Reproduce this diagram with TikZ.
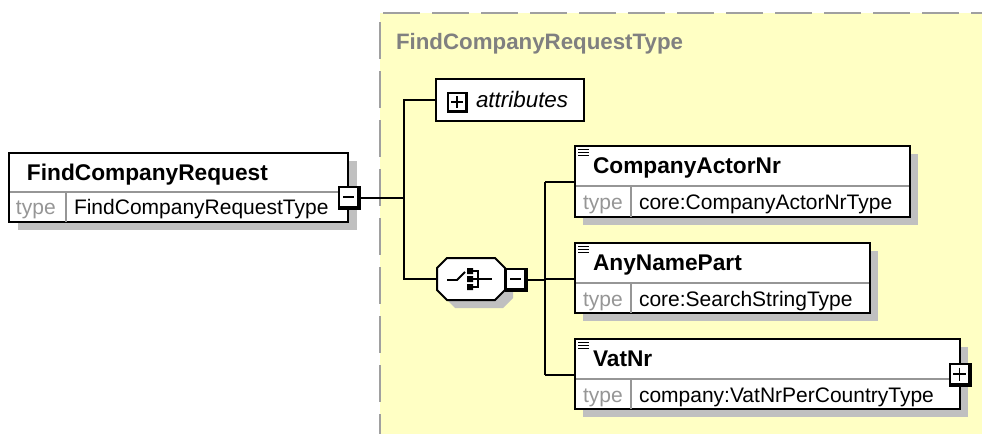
\documentclass[tikz,border=0pt]{standalone}
\usepackage{fontspec}
\setmainfont{Liberation Sans}
\definecolor{bgyellow}{RGB}{255,255,196}
\definecolor{shgray}{RGB}{192,192,192}
\definecolor{dashgray}{RGB}{160,160,160}
\definecolor{typegray}{RGB}{150,150,150}
\definecolor{titlegray}{RGB}{128,128,128}
\definecolor{divgray}{RGB}{150,150,150}
\begin{document}
\begin{tikzpicture}[x=1pt,y=-1pt,
  elbox/.style={draw=black,line width=2pt,fill=white,anchor=north west,inner sep=0pt,outer sep=0pt},
  shbox/.style={fill=shgray,draw=none,anchor=north west,inner sep=0pt,outer sep=0pt},
  sqbox/.style={fill=black,draw=none,anchor=north west,inner sep=0pt,outer sep=0pt,minimum width=23pt,minimum height=24pt},
  conn/.style={draw=black,line width=2pt},
  divline/.style={draw=divgray,line width=1.5pt},
  namefont/.style={font=\fontsize{22.7}{27}\selectfont\bfseries},
  typefont/.style={font=\fontsize{21}{25}\selectfont},
  lbl/.style={anchor=base west,inner sep=0pt,outer sep=0pt},
  typelbl/.style={lbl,typefont,text=typegray},
  iconline/.style={draw=black,line width=1.3pt},
  symline/.style={draw=black,line width=1.8pt},
  borderdash/.style={dashgray,line width=2.2pt,dash pattern=on 37pt off 12pt},
]
\useasboundingbox (0,0) rectangle (982,434);
\fill[white] (0,0) rectangle (982,434);
% type region
\fill[bgyellow] (380,13) rectangle (982,434);
\draw[borderdash,dash phase=46pt] (380,13) -- (982,13);
\draw[borderdash,dash phase=40pt] (380,13) -- (380,434);
\node[lbl,font=\fontsize{22.3}{27}\selectfont\bfseries,text=titlegray] (title) at (396,49) {FindCompanyRequestType};

% root element
\node[shbox,minimum width=339pt,minimum height=69pt] (fcrsh) at (18,161) {};
\node[elbox,minimum width=339pt,minimum height=69pt] (fcr) at (9,153) {};
\draw[divline] (10,192) -- (348,192);
\draw[divline] (66,192) -- (66,222);
\node[lbl,namefont] (fcrname) at (27,180) {FindCompanyRequest};
\node[typelbl] (fcrtl) at (16,214) {type};
\node[lbl,typefont] (fcrtype) at (74,214) {FindCompanyRequestType};
\node[sqbox] (fcrm) at (338,186) {};
\fill[white] (340,188) rectangle (357,206);
\draw[symline] (343,197) -- (354,197);

% trunk
\coordinate (t2) at (404,279);
\node[elbox,minimum width=148pt,minimum height=42pt] (attr) at (436,79) {};
\node[sqbox,minimum width=21pt,minimum height=21pt] (attrp) at (447,92) {};
\fill[white] (449,94) rectangle (465,110);
\draw[symline] (451,102) -- (463,102) (457,96) -- (457,108);
\node[lbl,font=\fontsize{22.4}{27}\selectfont\itshape] (attrtxt) at (476,107) {attributes};

% sequence compositor
\node[draw=none,inner sep=0pt,outer sep=0pt,minimum width=68pt,minimum height=42pt] (seq) at (471,279) {};
\fill[shgray] ([shift={(18pt,-8pt)}]seq.north west) -- ([shift={(-2pt,-8pt)}]seq.north east)
  -- ([shift={(8pt,-18pt)}]seq.north east) -- ([shift={(8pt,2pt)}]seq.south east)
  -- ([shift={(-2pt,-8pt)}]seq.south east) -- ([shift={(18pt,-8pt)}]seq.south west)
  -- ([shift={(8pt,2pt)}]seq.south west) -- ([shift={(8pt,-18pt)}]seq.north west) -- cycle;
\draw[black,line width=2pt,fill=white] ([xshift=10pt]seq.north west) -- ([xshift=-10pt]seq.north east)
  -- ([yshift=-10pt]seq.north east) -- ([yshift=10pt]seq.south east)
  -- ([xshift=-10pt]seq.south east) -- ([xshift=10pt]seq.south west)
  -- ([yshift=10pt]seq.south west) -- ([yshift=-10pt]seq.north west) -- cycle;
% sequence symbol
\draw[symline] (447,280) -- (457,280) -- (465,272);
\fill[black] (467,268) rectangle (473,274) (467,276) rectangle (473,282) (467,284) rectangle (473,290);
\draw[symline] (473,271) -- (478,271) -- (478,287) -- (473,287) (473,279) -- (492,279);
\node[sqbox] (seqm) at (505,268) {};
\fill[white] (507,270) rectangle (524,288);
\draw[symline] (510,279) -- (521,279);

\draw[conn] (fcrm.east) -- (fcrm.east -| t2);
\draw[conn] (attr.west) -| (t2) -- (seq.west);

% children
\coordinate (v1) at (545,182);
\coordinate (v2) at (545,279);
\coordinate (v3) at (545,375);
\draw[conn] (seqm.east) -- (seqm.east -| v2);
\draw[conn] (v1) -- (v3);

% CompanyActorNr
\node[shbox,minimum width=335pt,minimum height=71pt] (cansh) at (583,154) {};
\node[elbox,minimum width=335pt,minimum height=71pt] (can) at (575,146) {};
\draw[divline] (576,186) -- (909,186);
\draw[divline] (631,186) -- (631,217);
\draw[iconline] (578,149.5) -- (589,149.5) (578,152.5) -- (589,152.5) (578,155.5) -- (589,155.5);
\node[lbl,namefont] (canname) at (593,173) {CompanyActorNr};
\node[typelbl] (cantl) at (583,209) {type};
\node[lbl,typefont] (cantype) at (639,209) {core:CompanyActorNrType};
\draw[conn] (v1) -- (v1 -| can.west);

% AnyNamePart
\node[shbox,minimum width=295pt,minimum height=70pt] (anpsh) at (583,251) {};
\node[elbox,minimum width=295pt,minimum height=70pt] (anp) at (575,243) {};
\draw[divline] (576,283) -- (869,283);
\draw[divline] (631,283) -- (631,313);
\draw[iconline] (578,246.5) -- (589,246.5) (578,249.5) -- (589,249.5) (578,252.5) -- (589,252.5);
\node[lbl,namefont] (anpname) at (593,270) {AnyNamePart};
\node[typelbl] (anptl) at (583,306) {type};
\node[lbl,typefont] (anptype) at (639,306) {core:SearchStringType};
\draw[conn] (v2) -- (v2 -| anp.west);

% VatNr
\node[shbox,minimum width=385pt,minimum height=70pt] (vatsh) at (583,347) {};
\node[elbox,minimum width=385pt,minimum height=70pt] (vat) at (575,339) {};
\draw[divline] (576,379) -- (959,379);
\draw[divline] (631,379) -- (631,409);
\draw[iconline] (578,342.5) -- (589,342.5) (578,345.5) -- (589,345.5) (578,348.5) -- (589,348.5);
\node[lbl,namefont] (vatname) at (593,366) {VatNr};
\node[typelbl] (vattl) at (583,402) {type};
\node[lbl,typefont] (vattype) at (639,402) {company:VatNrPerCountryType};
\draw[conn] (v3) -- (v3 -| vat.west);
\node[sqbox] (vatp) at (949,363) {};
\fill[white] (951,365) rectangle (968,383);
\draw[symline] (953,374) -- (966,374) (959.5,367.5) -- (959.5,380.5);
\end{tikzpicture}
\end{document}
